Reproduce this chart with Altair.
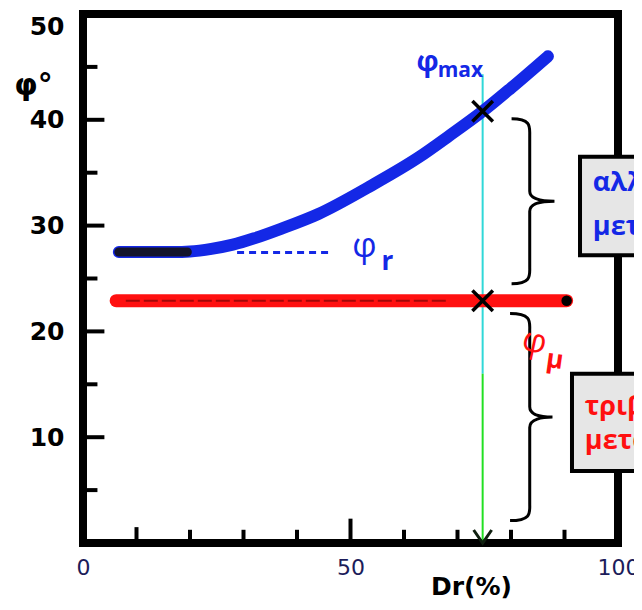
import altair as alt
import pandas as pd

# ---------------- data ----------------
# peak friction angle curve (blue)
dr_peak = [6.7, 12, 17, 20, 24, 28, 32, 37, 44, 53.6, 62.9, 68.5, 74.7, 80, 86.9]
phi_peak = [27.5, 27.5, 27.5, 27.55, 27.8, 28.2, 28.8, 29.7, 31.1, 33.7, 36.5, 38.5, 40.8, 43.0, 46.0]
# dark overlay on the flat start of the blue curve
dr_flat = [6.7, 19.5]
phi_flat = [27.5, 27.5]
# constant-volume friction angle (red)
dr_mu = [6.2, 90.4]
phi_mu = [22.9, 22.9]
# dashed phi_r marker
dr_r = [28.8, 46.1]
phi_r = [27.45, 27.45]
# selected density (vertical line) and marked points
dr_sel = 74.7
phi_sel_pts = [40.8, 22.9]
phi_line_top = 44.3
phi_color_split = 16.0
# axis tick values
y_ticks = [5, 10, 15, 20, 25, 30, 35, 40, 45]
x_ticks = [10, 20, 30, 40, 50, 60, 70, 80, 90]
y_labels = [10, 20, 30, 40, 50]
x_labels = [0, 50, 100]
# braces (center x, center y)
brace_x = [83.5, 83.5]
brace_y = [32.3, 11.9]
# boxes
box_x = [92.9, 91.4]
box_y = [27.2, 6.8]
box_y2 = [36.5, 16.0]
box_lines_blue = ["αλληλοεμπλοκή", "μεταξύ κόκκων"]
box_lines_red = ["τριβή", "μεταξύ κόκκων"]

BLUE = "#1428e6"
RED = "#ff1010"

xs = alt.Scale(domain=[0, 100], nice=False, zero=False)
ys = alt.Scale(domain=[0, 50], nice=False, zero=False)
xaxis = alt.Axis(values=x_labels, grid=False, ticks=False, domain=False,
                 labelFontSize=22, labelColor="#1c1c5a", labelPadding=14,
                 labelFont="DejaVu Sans", labelFlush=False,
                 title="Dr(%)", titleFontSize=25, titleFontWeight="bold",
                 titleFont="DejaVu Sans", titleColor="black",
                 titleX=388, titleY=43, titleBaseline="middle", titleAlign="center")
yaxis = alt.Axis(values=y_labels, grid=False, ticks=False, domain=False,
                 labelFontSize=25, labelFontWeight="bold", labelFont="DejaVu Sans",
                 labelColor="black", labelPadding=19, labelFlush=True,
                 title="φ°", titleAngle=0, titleX=-50, titleY=71,
                 titleFontSize=30, titleFontWeight="bold", titleFont="DejaVu Sans",
                 titleColor="black", titleBaseline="middle", titleAlign="center")

X = alt.X("x:Q", scale=xs, axis=xaxis)
Y = alt.Y("y:Q", scale=ys, axis=yaxis)

# tick marks pointing inside
yt = pd.DataFrame({"y": y_ticks, "x": [0] * len(y_ticks),
                   "x2": [4.0 if v % 10 == 0 else 2.7 for v in y_ticks]})
xt = pd.DataFrame({"x": x_ticks, "y": [0] * len(x_ticks),
                   "y2": [2.3 if v == 50 else (1.5 if v == 10 else 1.25) for v in x_ticks]})
ytick_layer = alt.Chart(yt).mark_rule(color="black", strokeWidth=4).encode(x=X, x2="x2:Q", y=Y)
xtick_layer = alt.Chart(xt).mark_rule(color="black", strokeWidth=4).encode(x=X, y=Y, y2="y2:Q")

# boxes
boxes = pd.DataFrame({"x": box_x, "x2": [125, 125], "y": box_y, "y2": box_y2})
box_layer = alt.Chart(boxes).mark_rect(fill="#e6e6e6", stroke="black", strokeWidth=4).encode(
    x=X, x2="x2:Q", y=Y, y2="y2:Q")

# vertical line
vdf = pd.DataFrame({"x": [dr_sel, dr_sel], "y": [phi_color_split, 0],
                    "y2": [phi_line_top, phi_color_split], "c": ["cyan", "green"]})
vline = alt.Chart(vdf).mark_rule(strokeWidth=2).encode(
    x=X, y=Y, y2="y2:Q",
    color=alt.Color("c:N", scale=alt.Scale(domain=["cyan", "green"], range=["#30d8d8", "#22e022"]), legend=None))

# dashed phi_r
rdf = pd.DataFrame({"x": dr_r, "y": phi_r})
rline = alt.Chart(rdf).mark_line(color=BLUE, strokeWidth=3, strokeDash=[7, 5]).encode(x=X, y=Y)

# red line
mdf = pd.DataFrame({"x": dr_mu, "y": phi_mu})
mline = alt.Chart(mdf).mark_line(color=RED, strokeWidth=13, strokeCap="round").encode(x=X, y=Y)
mdark = alt.Chart(pd.DataFrame({"x": [8, 68], "y": phi_mu})).mark_line(
    color="#300000", strokeWidth=2, opacity=0.45, strokeDash=[14, 4]).encode(x=X, y=Y)
mend = alt.Chart(pd.DataFrame({"x": [dr_mu[1]], "y": [phi_mu[1]]})).mark_point(
    shape="circle", filled=True, color="black", size=110, opacity=1).encode(x=X, y=Y)

# blue curve
pdf = pd.DataFrame({"x": dr_peak, "y": phi_peak})
pline = alt.Chart(pdf).mark_line(color=BLUE, strokeWidth=12, strokeCap="round",
                                 interpolate="monotone").encode(x=X, y=Y)
fdf = pd.DataFrame({"x": dr_flat, "y": phi_flat})
fline = alt.Chart(fdf).mark_line(color="#14142a", strokeWidth=9, strokeCap="round").encode(x=X, y=Y)

# X markers and arrow head
xm = pd.DataFrame({"x": [dr_sel, dr_sel], "y": phi_sel_pts})
xmark = alt.Chart(xm).mark_point(shape="M -1 -1 L 1 1 M -1 1 L 1 -1", size=420, filled=False,
                                 stroke="black", strokeWidth=3.5, opacity=1).encode(x=X, y=Y)
arrow = alt.Chart(pd.DataFrame({"x": [dr_sel], "y": [0]})).mark_point(
    shape="M -0.9 -1.3 L 0 0 L 0.9 -1.3", size=400, filled=False, stroke="#102010",
    strokeWidth=3, opacity=1).encode(x=X, y=Y)

# braces
b1 = alt.Chart(pd.DataFrame({"x": [brace_x[0]], "y": [brace_y[0]]})).mark_point(
    shape="M -0.22 -1 C 0.02 -1 0 -0.9 0 -0.8 L 0 -0.12 C 0 -0.02 0.15 0 0.3 0 C 0.15 0 0 0.02 0 0.12 L 0 0.8 C 0 0.9 0.02 1 -0.22 1",
    size=165 * 165, filled=False, stroke="black", strokeWidth=3, opacity=1).encode(x=X, y=Y)
b2 = alt.Chart(pd.DataFrame({"x": [brace_x[1]], "y": [brace_y[1]]})).mark_point(
    shape="M -0.19 -1 C 0.02 -1 0 -0.92 0 -0.84 L 0 -0.1 C 0 -0.02 0.12 0 0.22 0 C 0.12 0 0 0.02 0 0.1 L 0 0.84 C 0 0.92 0.02 1 -0.19 1",
    size=207 * 207, filled=False, stroke="black", strokeWidth=3, opacity=1).encode(x=X, y=Y)

FONT = "Open Sans"
def txt(xv, yv, s, color, size, weight="bold", align="left", angle=0):
    return alt.Chart(pd.DataFrame({"x": [xv], "y": [yv], "t": [s]})).mark_text(
        color=color, fontSize=size, fontWeight=weight, align=align, baseline="middle",
        font=FONT, angle=angle).encode(x=X, y=Y, text="t:N")

texts = [
    txt(64.4, 45.4, "φ", BLUE, 28, align="center"),
    txt(66.3, 44.6, "max", BLUE, 21),
    txt(52.6, 28.0, "φ", BLUE, 34, weight="normal", align="center"),
    txt(55.8, 26.6, "r", BLUE, 26),
    txt(84.4, 19.0, "φ", RED, 34, weight="normal", align="center", angle=12),
    txt(86.6, 17.4, "μ", RED, 26, angle=8),
    txt(95.3, 34.0, box_lines_blue[0], BLUE, 27),
    txt(95.3, 29.9, box_lines_blue[1], BLUE, 27),
    txt(93.8, 12.9, box_lines_red[0], RED, 27),
    txt(93.8, 9.6, box_lines_red[1], RED, 27),
]

chart = alt.layer(
    ytick_layer, xtick_layer, vline, rline, mline, mdark, mend, pline, fline,
    xmark, arrow, b1, b2, box_layer, *texts
).properties(
    width=535, height=529,
    autosize=alt.AutoSizeParams(type="none"),
    padding={"left": 75, "top": 6, "right": 16, "bottom": 56},
    background="white",
).configure_view(stroke="black", strokeWidth=8)

chart.save("out.html", embed_options={"renderer": "svg", "actions": False})
